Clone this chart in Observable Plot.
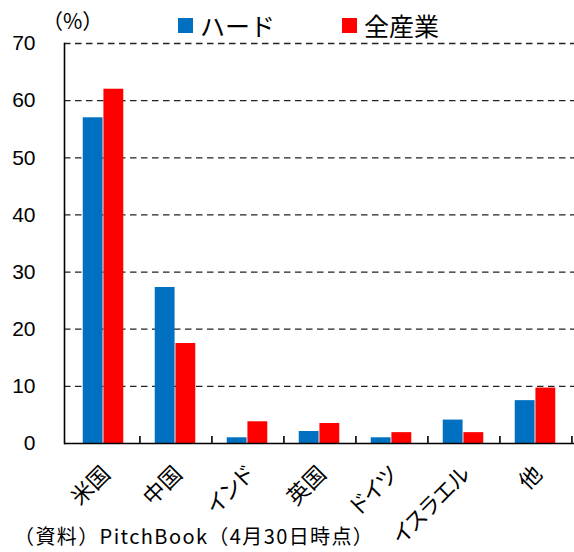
<!DOCTYPE html>
<html><head><meta charset="utf-8">
<script src="https://cdn.jsdelivr.net/npm/d3@7"></script>
<script src="https://cdn.jsdelivr.net/npm/@observablehq/plot@0.6"></script>
<style>
body{margin:0;background:#fff;}
#wrap{position:relative;width:574px;height:552px;font-family:"Liberation Sans","Noto Sans CJK JP",sans-serif;color:#000;overflow:hidden;}
#wrap svg{position:absolute;left:0;top:0;}
#wrap svg g[aria-label="x-axis tick label"] text{font-feature-settings:"palt";}
.unit{position:absolute;left:42px;top:10px;font-size:21px;line-height:1;font-family:"Noto Sans CJK JP",sans-serif;}
.legend{position:absolute;top:13px;left:178px;display:flex;align-items:center;font-size:25px;line-height:1;font-family:"Noto Sans CJK JP",sans-serif;}
.legend .item{display:flex;align-items:center;}
.legend .sw{width:15px;height:15px;display:inline-block;margin-right:7px;}
.caption{position:absolute;left:14px;top:526px;font-size:20px;letter-spacing:1.4px;line-height:1;font-family:"Noto Sans CJK JP",sans-serif;white-space:nowrap;}
</style></head><body><div id="wrap"></div>
<script>
const categories = ["米国","中国","インド","英国","ドイツ","イスラエル","他"];
const seriesNames = ["ハード","全産業"];
const hardValues = [57.0,27.3,1.0,2.1,1.0,4.1,7.5];
const allIndustryValues = [62.0,17.5,3.8,3.5,1.9,1.9,9.7];
const seriesColors = ["#0070C0","#FF0000"];
const yTicks = [0,10,20,30,40,50,60,70];
const unitLabel = "（%）";
const captionText = "（資料）PitchBook（4月30日時点）";

const W = 574, H = 552;
const mL = 64, mR = 0, mT = 43, mB = 109;
const step = (W - mL - mR) / categories.length;
const barW = step * 0.284;

const hardRows = categories.map((c, i) => ({category: c, series: seriesNames[0], value: hardValues[i]}));
const allRows = categories.map((c, i) => ({category: c, series: seriesNames[1], value: allIndustryValues[i]}));

const plot = Plot.plot({
  width: W, height: H,
  marginLeft: mL, marginRight: mR, marginTop: mT, marginBottom: mB,
  style: {fontFamily: '"Liberation Sans","Noto Sans CJK JP",sans-serif', background: "transparent", overflow: "visible"},
  x: {domain: categories, padding: 0, label: null},
  y: {domain: [0, 70], label: null},
  marks: [
    Plot.gridY(yTicks.slice(1), {stroke: "#222", strokeOpacity: 1, strokeWidth: 1.3, strokeDasharray: "6.5,4.5"}),
    Plot.barY(hardRows, {x: "category", y: "value", fill: seriesColors[0], insetLeft: step/2 - barW, insetRight: step/2}),
    Plot.barY(allRows, {x: "category", y: "value", fill: seriesColors[1], insetLeft: step/2, insetRight: step/2 - barW}),
    Plot.ruleY([0], {stroke: "#000", strokeWidth: 1.6}),
    Plot.frame({anchor: "left", stroke: "#000", strokeWidth: 1.6}),
    Plot.axisY(yTicks, {tickSize: 0, tickPadding: 29, fontSize: 21, label: null, fill: "#000"}),
    Plot.axisX({tickSize: -7, dx: step/2, text: null, stroke: "#000", strokeWidth: 1.6}),
    Plot.axisX({tickSize: 0, tickPadding: 27, dx: 3, tickRotate: -45, fontSize: 22, label: null, fontFamily: '"Noto Sans CJK JP",sans-serif', fill: "#000"})
  ]
});

const wrap = document.getElementById("wrap");
wrap.appendChild(plot);

const unit = document.createElement("div");
unit.className = "unit"; unit.textContent = unitLabel;
wrap.appendChild(unit);

const legend = document.createElement("div");
legend.className = "legend";
seriesNames.forEach((s, i) => {
  const item = document.createElement("span");
  item.className = "item";
  item.style.marginRight = i === 0 ? "67px" : "0";
  const sw = document.createElement("span");
  sw.className = "sw"; sw.style.background = seriesColors[i];
  const t = document.createElement("span");
  t.textContent = s;
  item.appendChild(sw); item.appendChild(t);
  legend.appendChild(item);
});
wrap.appendChild(legend);

const cap = document.createElement("div");
cap.className = "caption"; cap.textContent = captionText;
wrap.appendChild(cap);
</script>
</body></html>
